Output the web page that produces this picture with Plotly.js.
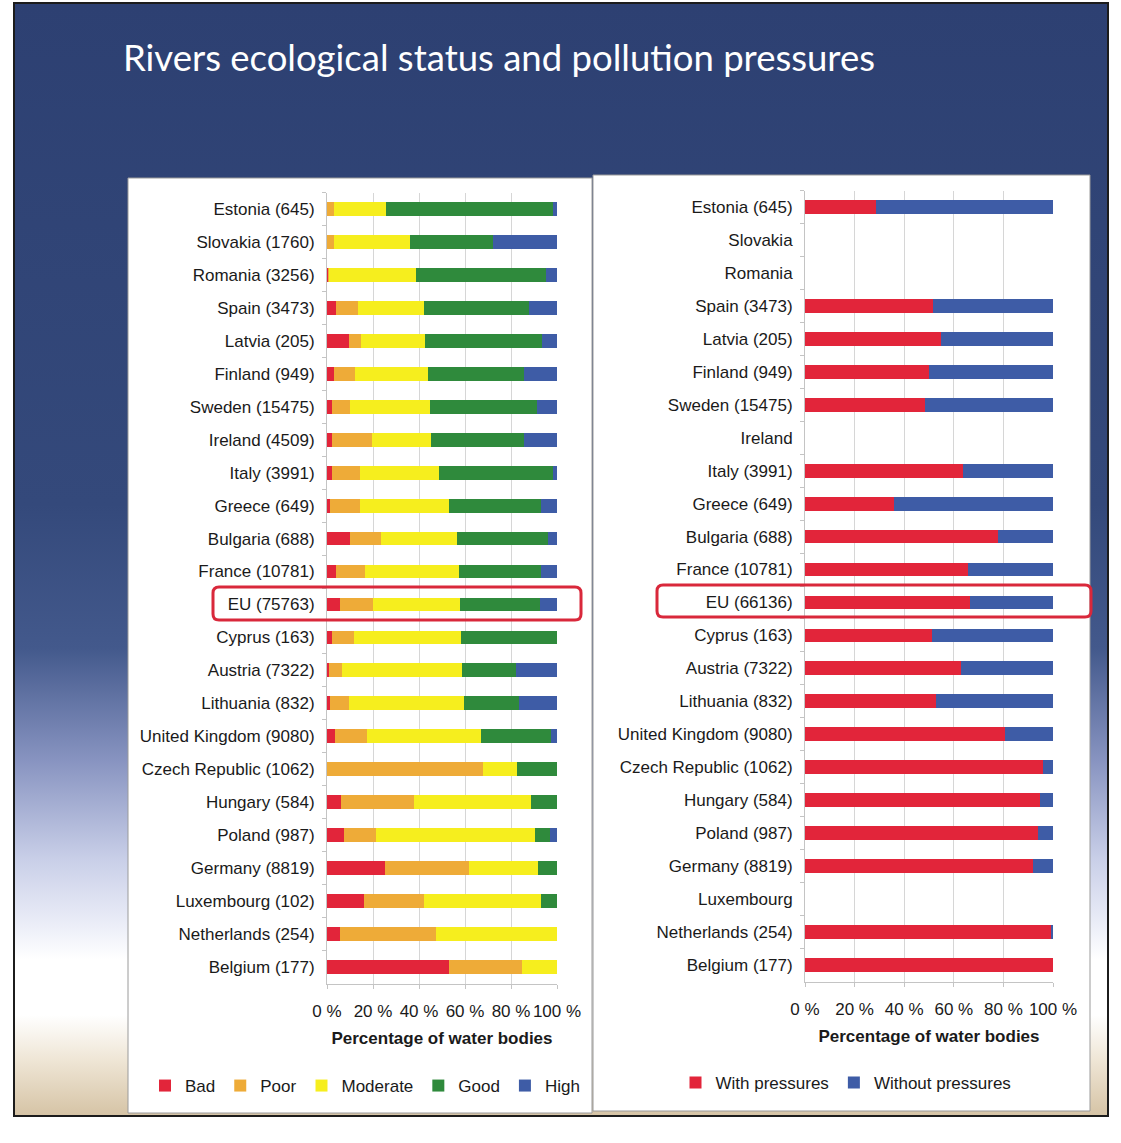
<!DOCTYPE html>
<html>
<head>
<meta charset="utf-8">
<script src="https://cdn.plot.ly/plotly-3.0.1.min.js"></script>
<style>
  body { margin: 0; background: #ffffff; }
  #slide {
    position: absolute; left: 13px; top: 2px; width: 1096px; height: 1115px;
    box-sizing: border-box; border: 2px solid #1c1c1c;
    background: linear-gradient(to bottom, #2d4072 0%, #34497b 45%, #43598c 58%, #8793c0 68%, #c9cfe8 77%, #eceef8 83%, #ffffff 86%, #ffffff 91%, #efe6d6 95%, #d6c4a6 100%);
  }
  #chart { position: absolute; left: 0; top: 0; width: 1121px; height: 1143px; }
</style>
</head>
<body>
<div id="slide"></div>
<div id="chart"></div>
<script>
// ecological status of rivers, % of water bodies (number of water bodies in brackets)
var countries = ['Estonia (645)', 'Slovakia (1760)', 'Romania (3256)', 'Spain (3473)', 'Latvia (205)',
  'Finland (949)', 'Sweden (15475)', 'Ireland (4509)', 'Italy (3991)', 'Greece (649)', 'Bulgaria (688)',
  'France (10781)', 'EU (75763)', 'Cyprus (163)', 'Austria (7322)', 'Lithuania (832)',
  'United Kingdom (9080)', 'Czech Republic (1062)', 'Hungary (584)', 'Poland (987)', 'Germany (8819)',
  'Luxembourg (102)', 'Netherlands (254)', 'Belgium (177)'];

var bad      = [0, 0, 0.3, 3.9, 9.4, 2.9, 2.3, 2.2, 2.2, 1.4, 9.9, 3.9, 5.7, 2.2, 1.0, 1.2, 3.6, 0, 6.3, 7.2, 25.1, 15.9, 5.6, 53.2];
var poor     = [3, 3, 0.4, 9.6, 5.4, 9.1, 7.8, 17.4, 12.3, 13.1, 13.4, 12.5, 14.2, 9.5, 5.5, 8.4, 13.7, 68, 31.5, 13.9, 36.8, 26.4, 42, 31.5];
var moderate = [22.6, 33, 38, 28.5, 27.7, 32, 34.5, 25.5, 34.1, 38.7, 33.2, 41.1, 37.9, 46.6, 52.3, 50.1, 49.7, 14.8, 50.7, 69.4, 30, 50.8, 52.4, 15.3];
var good     = [72.5, 36, 56.7, 46, 51, 41.5, 46.7, 40.6, 49.5, 40, 39.6, 35.7, 34.7, 41.7, 23.5, 23.8, 30.4, 17.2, 11.5, 6.5, 8.1, 6.9, 0, 0];
var high     = [1.9, 28, 4.6, 12, 6.5, 14.5, 8.7, 14.3, 1.9, 6.8, 3.9, 6.8, 7.5, 0, 17.7, 16.5, 2.6, 0, 0, 3, 0, 0, 0, 0];

// pollution pressures, % of water bodies (no data for some countries)
var countriesPressures = ['Estonia (645)', 'Slovakia', 'Romania', 'Spain (3473)', 'Latvia (205)',
  'Finland (949)', 'Sweden (15475)', 'Ireland', 'Italy (3991)', 'Greece (649)', 'Bulgaria (688)',
  'France (10781)', 'EU (66136)', 'Cyprus (163)', 'Austria (7322)', 'Lithuania (832)',
  'United Kingdom (9080)', 'Czech Republic (1062)', 'Hungary (584)', 'Poland (987)', 'Germany (8819)',
  'Luxembourg', 'Netherlands (254)', 'Belgium (177)'];

var withPressures    = [28.8, null, null, 51.5, 54.9, 50.1, 48.4, null, 63.6, 35.7, 78, 65.7, 66.6, 51.4, 62.7, 52.8, 80.8, 95.8, 94.6, 93.9, 91.9, null, 99.3, 100];
var withoutPressures = [71.2, null, null, 48.5, 45.1, 49.9, 51.6, null, 36.4, 64.3, 22, 34.3, 33.4, 48.6, 37.3, 47.2, 19.2, 4.2, 5.4, 6.1, 8.1, null, 0.7, 0];

var W = 1121, H = 1143;
var FONT = 'Liberation Sans, Arial, sans-serif';

// pixel -> paper helpers
function px(x) { return x / W; }
function py(y) { return 1 - y / H; }

function roundBox(x0, y0, x1, y1, r) {
  var rx = r / W, ry = r / H;
  var a = px(x0), b = px(x1), t = py(y0), u = py(y1);
  return 'M' + (a + rx) + ',' + t + ' L' + (b - rx) + ',' + t + ' Q' + b + ',' + t + ' ' + b + ',' + (t - ry) +
    ' L' + b + ',' + (u + ry) + ' Q' + b + ',' + u + ' ' + (b - rx) + ',' + u +
    ' L' + (a + rx) + ',' + u + ' Q' + a + ',' + u + ' ' + a + ',' + (u + ry) +
    ' L' + a + ',' + (t - ry) + ' Q' + a + ',' + t + ' ' + (a + rx) + ',' + t + ' Z';
}

function statusBar(name, values, color) {
  return { type: 'bar', orientation: 'h', name: name, x: values, y: countries,
    xaxis: 'x', yaxis: 'y', legend: 'legend', marker: { color: color, line: { width: 0 } } };
}
function pressureBar(name, values, color) {
  return { type: 'bar', orientation: 'h', name: name, x: values, y: countriesPressures,
    xaxis: 'x2', yaxis: 'y2', legend: 'legend2', marker: { color: color, line: { width: 0 } } };
}

var data = [
  statusBar('Bad', bad, '#e2253a'),
  statusBar('Poor', poor, '#eeab38'),
  statusBar('Moderate', moderate, '#f6ee1e'),
  statusBar('Good', good, '#2f8a3c'),
  statusBar('High', high, '#3e5ca6'),
  pressureBar('With pressures', withPressures, '#e2253a'),
  pressureBar('Without pressures', withoutPressures, '#3e5ca6')
];

function xAxis(domain, anchor) {
  return {
    domain: domain, anchor: anchor, range: [0, 100], dtick: 20, ticksuffix: ' %', tickangle: 0,
    showgrid: true, gridcolor: '#d6d6d6', gridwidth: 1, zeroline: false,
    showline: true, linecolor: '#c4c4c4', ticks: 'outside', ticklen: 4, tickcolor: '#c4c4c4',
    tickfont: { family: FONT, size: 17, color: '#1a1a1a' }, ticklabelstandoff: 8,
    title: { text: 'Percentage of water bodies', standoff: 12,
      font: { family: FONT, size: 17, color: '#1a1a1a', weight: 'bold' } },
    fixedrange: true
  };
}
function yAxis(domain, anchor) {
  return {
    domain: domain, anchor: anchor, type: 'category', autorange: 'reversed',
    showgrid: false, showline: true, linecolor: '#c4c4c4', ticks: 'outside', ticklen: 4,
    tickcolor: '#c4c4c4', tickson: 'boundaries', ticklabelstandoff: 8,
    tickfont: { family: FONT, size: 17, color: '#1a1a1a' }, fixedrange: true
  };
}

var layout = {
  width: W, height: H, autosize: false,
  margin: { l: 0, r: 0, t: 0, b: 0 },
  paper_bgcolor: 'rgba(0,0,0,0)', plot_bgcolor: 'rgba(0,0,0,0)',
  font: { family: FONT, color: '#1a1a1a' },
  barmode: 'stack', bargap: 0.58,
  title: {
    text: 'Rivers ecological status and pollution pressures',
    xref: 'paper', yref: 'paper', x: px(123), xanchor: 'left', y: py(58), yanchor: 'middle',
    font: { family: 'Lato, Liberation Sans, sans-serif', size: 36.5, color: '#ffffff' }
  },
  xaxis: xAxis([px(327), px(557)], 'y'),
  yaxis: yAxis([py(983.5), py(192.5)], 'x'),
  xaxis2: xAxis([px(805), px(1053)], 'y2'),
  yaxis2: yAxis([py(981.5), py(190.5)], 'x2'),
  showlegend: true,
  legend: { orientation: 'h', traceorder: 'normal', x: px(365), xanchor: 'center', y: py(1086), yanchor: 'middle',
    bgcolor: 'rgba(0,0,0,0)', font: { family: FONT, size: 17, color: '#1a1a1a' } },
  legend2: { orientation: 'h', traceorder: 'normal', x: px(846), xanchor: 'center', y: py(1083), yanchor: 'middle',
    bgcolor: 'rgba(0,0,0,0)', font: { family: FONT, size: 17, color: '#1a1a1a' } },
  shapes: [
    { type: 'rect', xref: 'paper', yref: 'paper', layer: 'below',
      x0: px(128), x1: px(592), y0: py(1113), y1: py(178),
      fillcolor: '#ffffff', line: { color: '#9a9a9a', width: 1 } },
    { type: 'rect', xref: 'paper', yref: 'paper', layer: 'below',
      x0: px(593), x1: px(1090), y0: py(1111), y1: py(175),
      fillcolor: '#ffffff', line: { color: '#9a9a9a', width: 1 } },
    { type: 'path', xref: 'paper', yref: 'paper', layer: 'above',
      path: roundBox(213, 587, 581, 620, 6), line: { color: '#d9283b', width: 3 } },
    { type: 'path', xref: 'paper', yref: 'paper', layer: 'above',
      path: roundBox(657, 585, 1091, 617, 6), line: { color: '#d9283b', width: 3 } }
  ]
};

Plotly.newPlot('chart', data, layout, { displayModeBar: false, staticPlot: true });
</script>
</body>
</html>
